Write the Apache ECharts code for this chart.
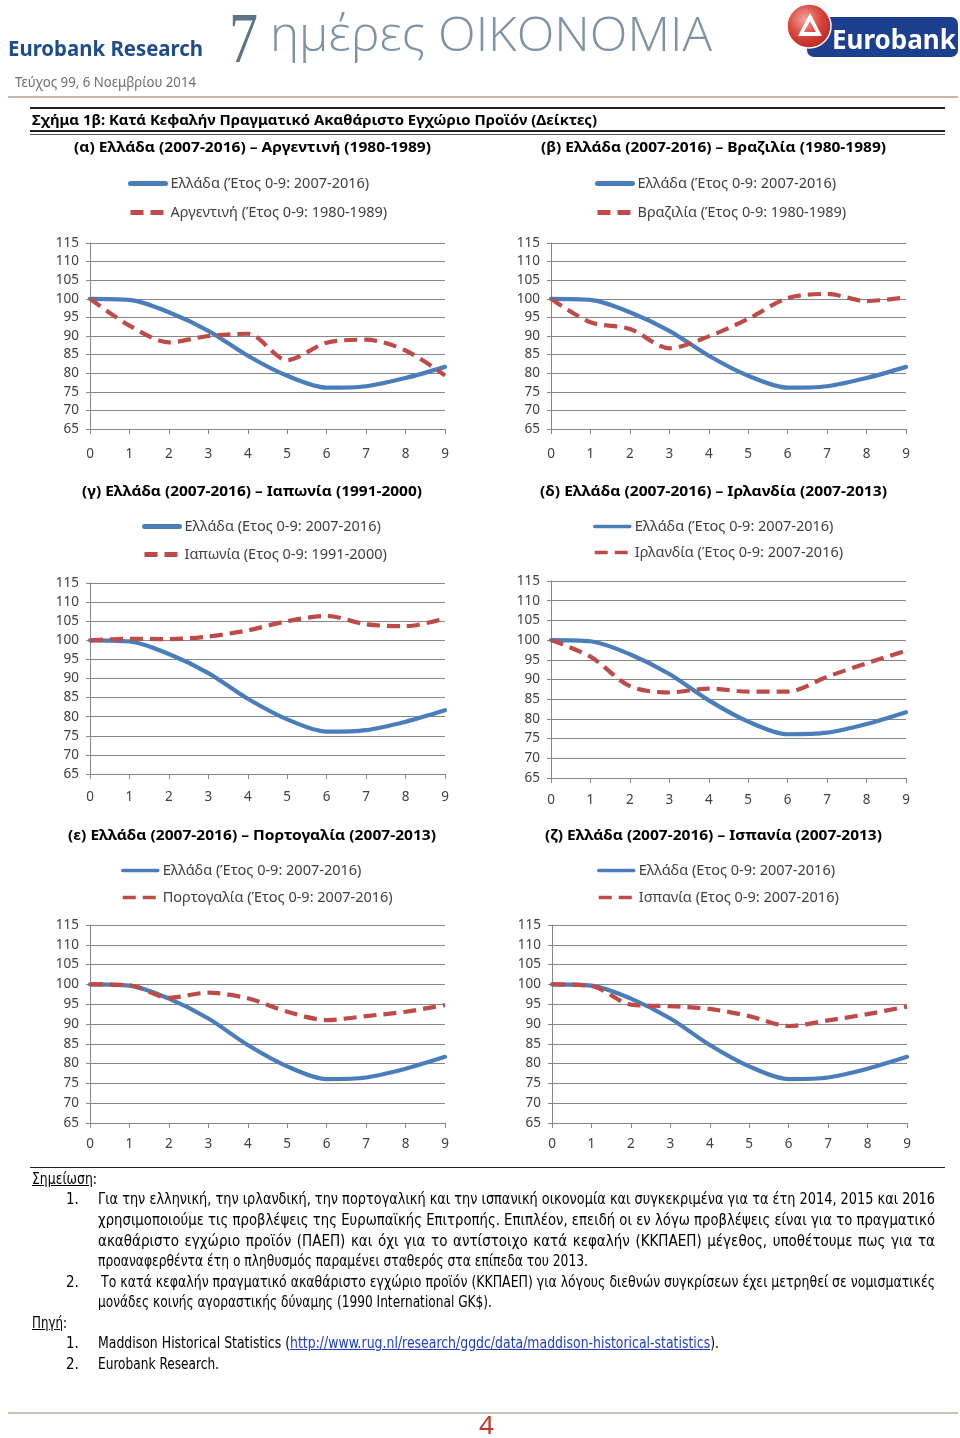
<!DOCTYPE html>
<html>
<head>
<meta charset="utf-8">
<script src="https://cdn.jsdelivr.net/npm/echarts@6/dist/echarts.min.js"></script>
<style>
  html,body{margin:0;padding:0;background:#fff;}
  body{width:960px;height:1438px;position:relative;overflow:hidden;}
  #chart{position:absolute;left:0;top:0;width:960px;height:1438px;}
  .t{position:absolute;white-space:nowrap;line-height:1;transform-origin:0 50%;}
  .hr{position:absolute;}
  .sub{font-family:"Noto Sans",sans-serif;font-weight:bold;font-size:15px;color:#000;}
  .note{font-family:"Liberation Sans Narrow","DejaVu Sans Condensed",sans-serif;font-size:15px;color:#000;}
  a{color:#1f3fbf;text-decoration:underline;}
</style>
</head>
<body>
<div id="chart"></div>

<!-- header -->
<div class="t" data-w="195" style="left:8px;top:38px;font-family:'Noto Sans',sans-serif;font-weight:bold;font-size:21px;color:#1f4d8c;">Eurobank Research</div>
<div class="t" data-w="29" style="left:229px;top:2px;font-family:'Liberation Serif',serif;font-size:72px;color:#5b7587;">7</div>
<div class="t" data-w="442" style="left:270px;top:9px;font-family:'Open Sans',sans-serif;font-weight:300;font-size:48px;color:#7c93a5;">ημέρες ΟΙΚΟΝΟΜΙΑ</div>
<div class="t" data-w="181" style="left:15px;top:76px;font-family:'Noto Sans',sans-serif;font-size:13.5px;color:#6f6f6f;">Τεύχος 99, 6 Νοεμβρίου 2014</div>
<svg style="position:absolute;left:783px;top:2px" width="177" height="58" viewBox="0 0 177 58">
  <defs>
    <radialGradient id="rg" cx="0.4" cy="0.35" r="0.7">
      <stop offset="0" stop-color="#f2a39b"/>
      <stop offset="0.55" stop-color="#d9453b"/>
      <stop offset="1" stop-color="#b8261f"/>
    </radialGradient>
  </defs>
  <rect x="24" y="15" width="151" height="40" rx="7" fill="#1c3f8f"/>
  <circle cx="26" cy="24" r="22" fill="url(#rg)" stroke="#fff" stroke-width="1.5"/>
  <path d="M15 34 L27 11 L39 34 Z M21 30 L27 19 L33 30 Z" fill="#fff" fill-rule="evenodd"/>
  <text x="49" y="47" font-family="Noto Sans, sans-serif" font-weight="bold" font-size="26" fill="#fff">Eurobank</text>
</svg>

<div class="hr" style="left:8px;top:96px;width:950px;height:2px;background:#c9b6a8;"></div>
<div class="hr" style="left:30px;top:107px;width:915px;height:1.5px;background:#222;"></div>
<div class="t" data-w="565" style="left:32px;top:112px;font-family:'Noto Sans',sans-serif;font-weight:bold;font-size:15px;color:#000;">Σχήμα 1β: Κατά Κεφαλήν Πραγματικό Ακαθάριστο Εγχώριο Προϊόν (Δείκτες)</div>
<div class="hr" style="left:30px;top:130px;width:915px;height:2px;background:#222;"></div>
<div class="hr" style="left:30px;top:134px;width:915px;height:1px;background:#555;"></div>

<!-- subtitles -->
<div class="t sub" data-cx="252.5" data-w="357" style="top:139px;">(α) Ελλάδα (2007-2016) – Αργεντινή (1980-1989)</div>
<div class="t sub" data-cx="713.5" data-w="345" style="top:139px;">(β) Ελλάδα (2007-2016) – Βραζιλία (1980-1989)</div>
<div class="t sub" data-cx="252" data-w="340" style="top:483px;">(γ) Ελλάδα (2007-2016) – Ιαπωνία (1991-2000)</div>
<div class="t sub" data-cx="713.5" data-w="347" style="top:483px;">(δ) Ελλάδα (2007-2016) – Ιρλανδία (2007-2013)</div>
<div class="t sub" data-cx="252" data-w="368" style="top:827px;">(ε) Ελλάδα (2007-2016) – Πορτογαλία (2007-2013)</div>
<div class="t sub" data-cx="713.5" data-w="337" style="top:827px;">(ζ) Ελλάδα (2007-2016) – Ισπανία (2007-2013)</div>

<div class="hr" style="left:30px;top:1167px;width:915px;height:1px;background:#222;"></div>

<!-- notes -->
<div class="t note" data-w="65" style="left:32px;top:1172px;"><u>Σημείωση</u>:</div>
<div class="t note" style="left:66px;top:1192px;">1.</div>
<div class="t note just" data-w="837" style="left:98px;top:1192px;">Για την ελληνική, την ιρλανδική, την πορτογαλική και την ισπανική οικονομία και συγκεκριμένα για τα έτη 2014, 2015 και 2016</div>
<div class="t note just" data-w="837" style="left:98px;top:1213px;">χρησιμοποιούμε τις προβλέψεις της Ευρωπαϊκής Επιτροπής. Επιπλέον, επειδή οι εν λόγω προβλέψεις είναι για το πραγματικό</div>
<div class="t note just" data-w="837" style="left:98px;top:1234px;">ακαθάριστο εγχώριο προϊόν (ΠΑΕΠ) και όχι για το αντίστοιχο κατά κεφαλήν (ΚΚΠΑΕΠ) μέγεθος, υποθέτουμε πως για τα</div>
<div class="t note" data-w="490" style="left:98px;top:1254px;">προαναφερθέντα έτη ο πληθυσμός παραμένει σταθερός στα επίπεδα του 2013.</div>
<div class="t note" style="left:66px;top:1275px;">2.</div>
<div class="t note just" data-w="834" style="left:101px;top:1275px;">Το κατά κεφαλήν πραγματικό ακαθάριστο εγχώριο προϊόν (ΚΚΠΑΕΠ) για λόγους διεθνών συγκρίσεων έχει μετρηθεί σε νομισματικές</div>
<div class="t note" data-w="394" style="left:98px;top:1295px;">μονάδες κοινής αγοραστικής δύναμης (1990 International GK$).</div>
<div class="t note" data-w="35" style="left:32px;top:1316px;"><u>Πηγή</u>:</div>
<div class="t note" style="left:66px;top:1336px;">1.</div>
<div class="t note" data-w="621" style="left:98px;top:1336px;">Maddison Historical Statistics (<a>http://www.rug.nl/research/ggdc/data/maddison-historical-statistics</a>).</div>
<div class="t note" style="left:66px;top:1357px;">2.</div>
<div class="t note" data-w="121" style="left:98px;top:1357px;">Eurobank Research.</div>

<div class="hr" style="left:8px;top:1412px;width:950px;height:2px;background:#c8c2b4;"></div>
<div class="t" style="left:479px;top:1411px;font-family:'Noto Sans',sans-serif;font-size:26px;color:#c0392b;">4</div>

<script>
// ---------- data ----------
const years = ['0','1','2','3','4','5','6','7','8','9'];
const greece    = [100, 99.7, 96.4, 91.4, 84.7, 79.3, 76.1, 76.5, 78.7, 81.7];
const argentina = [100, 92.8, 88.3, 90.0, 90.6, 83.5, 88.2, 89.0, 86.1, 79.4];
const brazil    = [100, 93.7, 91.9, 86.7, 89.9, 94.6, 100.2, 101.3, 99.4, 100.4];
const japan     = [100, 100.4, 100.3, 101.0, 102.6, 105.0, 106.4, 104.2, 103.7, 105.7];
const ireland   = [100, 95.8, 88.3, 86.7, 87.7, 86.9, 86.9, 90.7, 94.1, 97.3];
const portugal  = [100, 99.8, 96.6, 97.9, 96.5, 93.1, 91.0, 92.0, 93.1, 94.8];
const spain     = [100, 99.6, 94.9, 94.5, 93.8, 92.0, 89.5, 90.9, 92.5, 94.4];
const yMin = 65, yMax = 115, yStep = 5;

const panels = [
  {names:['Ελλάδα (Έτος 0-9: 2007-2016)','Αργεντινή (Έτος 0-9: 1980-1989)'], other: argentina},
  {names:['Ελλάδα (Έτος 0-9: 2007-2016)','Βραζιλία (Έτος 0-9: 1980-1989)'], other: brazil},
  {names:['Ελλάδα (Ετος 0-9: 2007-2016)','Ιαπωνία (Ετος 0-9: 1991-2000)'], other: japan},
  {names:['Ελλάδα (Έτος 0-9: 2007-2016)','Ιρλανδία (Έτος 0-9: 2007-2016)'], other: ireland},
  {names:['Ελλάδα (Έτος 0-9: 2007-2016)','Πορτογαλία (Έτος 0-9: 2007-2016)'], other: portugal},
  {names:['Ελλάδα (Ετος 0-9: 2007-2016)','Ισπανία (Ετος 0-9: 2007-2016)'], other: spain}
];

// ---------- layout ----------
const layout = [
  {grid:{left:90, top:243, width:355, height:186}, leg:{left:128, y1:183, y2:213, w:5}, lm:18},
  {grid:{left:551,top:243, width:355, height:186}, leg:{left:595, y1:183, y2:213, w:5}, lm:18},
  {grid:{left:90, top:583, width:355, height:191}, leg:{left:142, y1:526, y2:555, w:5}, lm:16},
  {grid:{left:551,top:581, width:355, height:197}, leg:{left:593, y1:526, y2:553, w:3.5}, lm:15},
  {grid:{left:90, top:925, width:355, height:198}, leg:{left:121, y1:870, y2:898, w:3.5}, lm:14},
  {grid:{left:552,top:925, width:355, height:198}, leg:{left:597, y1:870, y2:898, w:3.5}, lm:14}
];

const FONT = 'Noto Sans';
const AX = '#868686', TXT = '#404040';
const BLUE = '#4a7ebb', RED = '#be4b48';

const option = {animation:false, grid:[], xAxis:[], yAxis:[], legend:[], series:[]};
panels.forEach((p, i) => {
  const L = layout[i];
  option.grid.push(L.grid);
  option.xAxis.push({
    gridIndex:i, type:'category', data:years, boundaryGap:false,
    axisLine:{lineStyle:{color:AX, width:1}},
    axisTick:{show:true, length:5, lineStyle:{color:AX}},
    axisLabel:{color:TXT, fontSize:13.5, fontFamily:FONT, margin:L.lm}
  });
  option.yAxis.push({
    gridIndex:i, type:'value', min:yMin, max:yMax, interval:yStep,
    axisLine:{show:true, lineStyle:{color:AX, width:1}},
    axisTick:{show:true, length:4, lineStyle:{color:AX}},
    splitLine:{show:true, lineStyle:{color:AX, width:1}},
    axisLabel:{color:TXT, fontSize:13.5, fontFamily:FONT, margin:11}
  });
  option.legend.push({
    orient:'vertical', left:L.leg.left, top:L.leg.y1 - 7, padding:0,
    itemGap:(L.leg.y2 - L.leg.y1) - 16, itemWidth:35, itemHeight:16,
    selectedMode:false, data:p.names,
    itemStyle:{opacity:0},
    lineStyle:{width:L.leg.w},
    textStyle:{color:TXT, fontSize:14.5, fontFamily:FONT}
  });
  option.series.push({
    type:'line', name:p.names[0], xAxisIndex:i, yAxisIndex:i, data:greece,
    symbol:'none', smooth:0.3, z:2,
    lineStyle:{color:BLUE, width:4.2, cap:'round'}, itemStyle:{color:BLUE}
  });
  option.series.push({
    type:'line', name:p.names[1], xAxisIndex:i, yAxisIndex:i, data:p.other,
    symbol:'none', smooth:0.3, z:3,
    lineStyle:{color:RED, width:4.2, type:[13,7], cap:'butt'}, itemStyle:{color:RED}
  });
});

const chart = echarts.init(document.getElementById('chart'), null, {renderer:'canvas'});
chart.setOption(option);

// ---------- fit header/notes text widths ----------
function fit(){
  document.querySelectorAll('.t[data-w]').forEach(el => {
    el.style.transform = ''; el.style.wordSpacing = '';
    const w = parseFloat(el.dataset.w);
    const nat = el.getBoundingClientRect().width;
    if (el.dataset.cx) el.style.left = (parseFloat(el.dataset.cx) - w/2) + 'px';
    if (el.classList.contains('just')) {
      const spaces = (el.textContent.match(/ /g) || []).length;
      if (nat < w && spaces) { el.style.wordSpacing = ((w - nat)/spaces) + 'px'; return; }
    }
    el.style.transform = 'scaleX(' + (w/nat) + ')';
  });
}
fit();
if (document.fonts && document.fonts.ready) document.fonts.ready.then(fit);
</script>
</body>
</html>
